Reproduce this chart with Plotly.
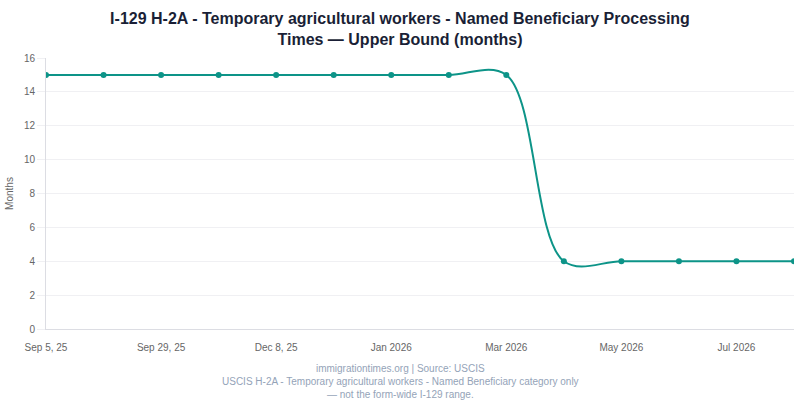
import plotly.graph_objects as go

dates = ["2025-09-05", "2025-09-15", "2025-09-29", "2025-10-20", "2025-12-08", "2025-12-22",
         "2026-01-15", "2026-02-10", "2026-03-05", "2026-04-02", "2026-05-06", "2026-06-03",
         "2026-07-01", "2026-07-29"]
tick_dates = ["2025-09-05", "2025-09-29", "2025-12-08", "2026-01-15", "2026-03-05", "2026-05-06", "2026-07-01"]
tick_labels = ["Sep 5, 25", "Sep 29, 25", "Dec 8, 25", "Jan 2026", "Mar 2026", "May 2026", "Jul 2026"]
months = [15, 15, 15, 15, 15, 15, 15, 15, 15, 4, 4, 4, 4, 4]

teal = "#0d9488"
fig = go.Figure(go.Scatter(
    x=dates, y=months, mode="lines+markers",
    line=dict(color=teal, width=2, shape="spline", smoothing=1),
    marker=dict(color=teal, size=6),
    hoverinfo="x+y",
))

fig.update_layout(
    width=800, height=400,
    margin=dict(l=46, r=6, t=58, b=71, autoexpand=False),
    paper_bgcolor="white", plot_bgcolor="white",
    font=dict(family="Liberation Sans, Arial, sans-serif", color="#666666", size=10),
    title=dict(
        text="<b>I-129 H-2A - Temporary agricultural workers - Named Beneficiary Processing<br>Times — Upper Bound (months)</b>",
        x=0.5, xanchor="center", y=0.94, yanchor="top",
        font=dict(size=16, color="#1a1f36"),
    ),
    showlegend=False,
    xaxis=dict(
        type="category", range=[0, len(dates) - 1], automargin=False,
        tickmode="array", tickvals=tick_dates, ticktext=tick_labels,
        showgrid=False, showline=True, linecolor="#dcdde3", linewidth=1,
        ticks="outside", ticklen=9, tickcolor="rgba(0,0,0,0)",
        tickfont=dict(size=10, color="#666666"),
    ),
    yaxis=dict(
        range=[0, 16], dtick=2, showgrid=True, gridcolor="#f0f0f3", automargin=False,
        showline=True, linecolor="#dcdde3", linewidth=1, zeroline=False,
        ticks="outside", ticklen=8, tickcolor="#f0f0f3",
        title=dict(text="Months", font=dict(size=10, color="#666666"), standoff=8),
        tickfont=dict(size=10, color="#666666"),
    ),
    annotations=[dict(
        text="immigrationtimes.org | Source: USCIS<br>USCIS H-2A - Temporary agricultural workers - Named Beneficiary category only<br>— not the form-wide I-129 range.",
        xref="paper", yref="paper", x=(400 - 46) / 748, y=-0.118, xanchor="center", yanchor="top",
        showarrow=False, font=dict(size=10, color="#94a3b8"), align="center",
    )],
)

fig.write_html("out.html", config={"displayModeBar": False},
               post_script="document.body.style.margin='0px';document.body.style.overflow='hidden';")
